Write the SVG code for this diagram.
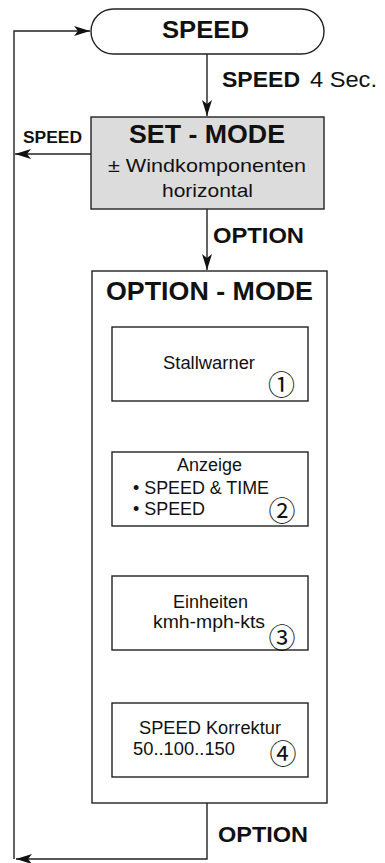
<svg xmlns="http://www.w3.org/2000/svg" width="385" height="863" viewBox="0 0 385 863">
<style>
.box{fill:#fff;stroke:#222;stroke-width:1.4}
.gray{fill:#dcdcdc;stroke:#222;stroke-width:1.4}
.ln{fill:none;stroke:#222;stroke-width:1.4}
text{font-family:"Liberation Sans",Arial,sans-serif;fill:#111}
.b{font-weight:bold}
.t{font-size:17.5px}
.num{font-family:"Noto Sans CJK JP","DejaVu Sans",sans-serif;font-size:27px;text-anchor:middle}
</style>
<defs>
<marker id="ah" viewBox="0 0 16 10" refX="16" refY="5" markerWidth="16" markerHeight="10" markerUnits="userSpaceOnUse" orient="auto">
<path d="M0,0 L16,5 L0,10 L4,5 z" fill="#111"/>
</marker>
</defs>
<g id="connectors">
<path class="ln" d="M207,54 V116" marker-end="url(#ah)"/>
<path class="ln" d="M91,154 H15" marker-end="url(#ah)"/>
<path class="ln" d="M207,209 V270" marker-end="url(#ah)"/>
<path class="ln" d="M207,401 V451" marker-end="url(#ah)"/>
<path class="ln" d="M207,526 V575" marker-end="url(#ah)"/>
<path class="ln" d="M207,650 V702" marker-end="url(#ah)"/>
<path class="ln" d="M207,803 V859 H16" marker-end="url(#ah)"/>
<path class="ln" d="M14,859 V31 H90" marker-end="url(#ah)"/>
<text class="b" x="222" y="87" font-size="22" textLength="78" lengthAdjust="spacingAndGlyphs">SPEED</text>
<text x="310" y="87" font-size="22" textLength="67" lengthAdjust="spacingAndGlyphs">4 Sec.</text>
<text class="b" x="23" y="143" font-size="16" textLength="59" lengthAdjust="spacingAndGlyphs">SPEED</text>
<text class="b" x="213" y="243" font-size="22" textLength="91" lengthAdjust="spacingAndGlyphs">OPTION</text>
<text class="b" x="218" y="842" font-size="22" textLength="90" lengthAdjust="spacingAndGlyphs">OPTION</text>
</g>
<g id="speed">
<rect class="box" x="91" y="9" width="233" height="45" rx="22.5"/>
<text class="b" x="162" y="38" font-size="24" textLength="87" lengthAdjust="spacingAndGlyphs">SPEED</text>
</g>
<g id="set-mode">
<rect class="gray" x="91" y="117" width="233" height="92"/>
<text class="b" x="129" y="143" font-size="25.5" textLength="156" lengthAdjust="spacingAndGlyphs">SET - MODE</text>
<text x="108" y="172" font-size="19" textLength="198" lengthAdjust="spacingAndGlyphs">± Windkomponenten</text>
<text x="162" y="197" font-size="19" textLength="91" lengthAdjust="spacingAndGlyphs">horizontal</text>
</g>
<g id="option-mode">
<rect class="box" x="92" y="271" width="235" height="532"/>
<text class="b" x="106" y="300" font-size="25.5" textLength="207" lengthAdjust="spacingAndGlyphs">OPTION - MODE</text>
</g>
<g id="stallwarner">
<rect class="box" x="112" y="327" width="196" height="74"/>
<text class="t" x="163" y="369" textLength="92" lengthAdjust="spacingAndGlyphs">Stallwarner</text>
<text class="num" x="281.5" y="395">①</text>
</g>
<g id="anzeige">
<rect class="box" x="112" y="452" width="196" height="74"/>
<text class="t" x="177" y="471" textLength="65" lengthAdjust="spacingAndGlyphs">Anzeige</text>
<text class="t" x="133" y="494" textLength="136" lengthAdjust="spacingAndGlyphs">• SPEED &amp; TIME</text>
<text class="t" x="133" y="515" textLength="72" lengthAdjust="spacingAndGlyphs">• SPEED</text>
<text class="num" x="282" y="521">②</text>
</g>
<g id="einheiten">
<rect class="box" x="112" y="576" width="196" height="74"/>
<text class="t" x="173" y="608" textLength="75" lengthAdjust="spacingAndGlyphs">Einheiten</text>
<text class="t" x="153" y="628" textLength="112" lengthAdjust="spacingAndGlyphs">kmh-mph-kts</text>
<text class="num" x="282" y="648">③</text>
</g>
<g id="korrektur">
<rect class="box" x="112" y="703" width="196" height="74"/>
<text class="t" x="139" y="734" textLength="142" lengthAdjust="spacingAndGlyphs">SPEED Korrektur</text>
<text class="t" x="133" y="755" textLength="102" lengthAdjust="spacingAndGlyphs">50..100..150</text>
<text class="num" x="283" y="764">④</text>
</g>
</svg>
